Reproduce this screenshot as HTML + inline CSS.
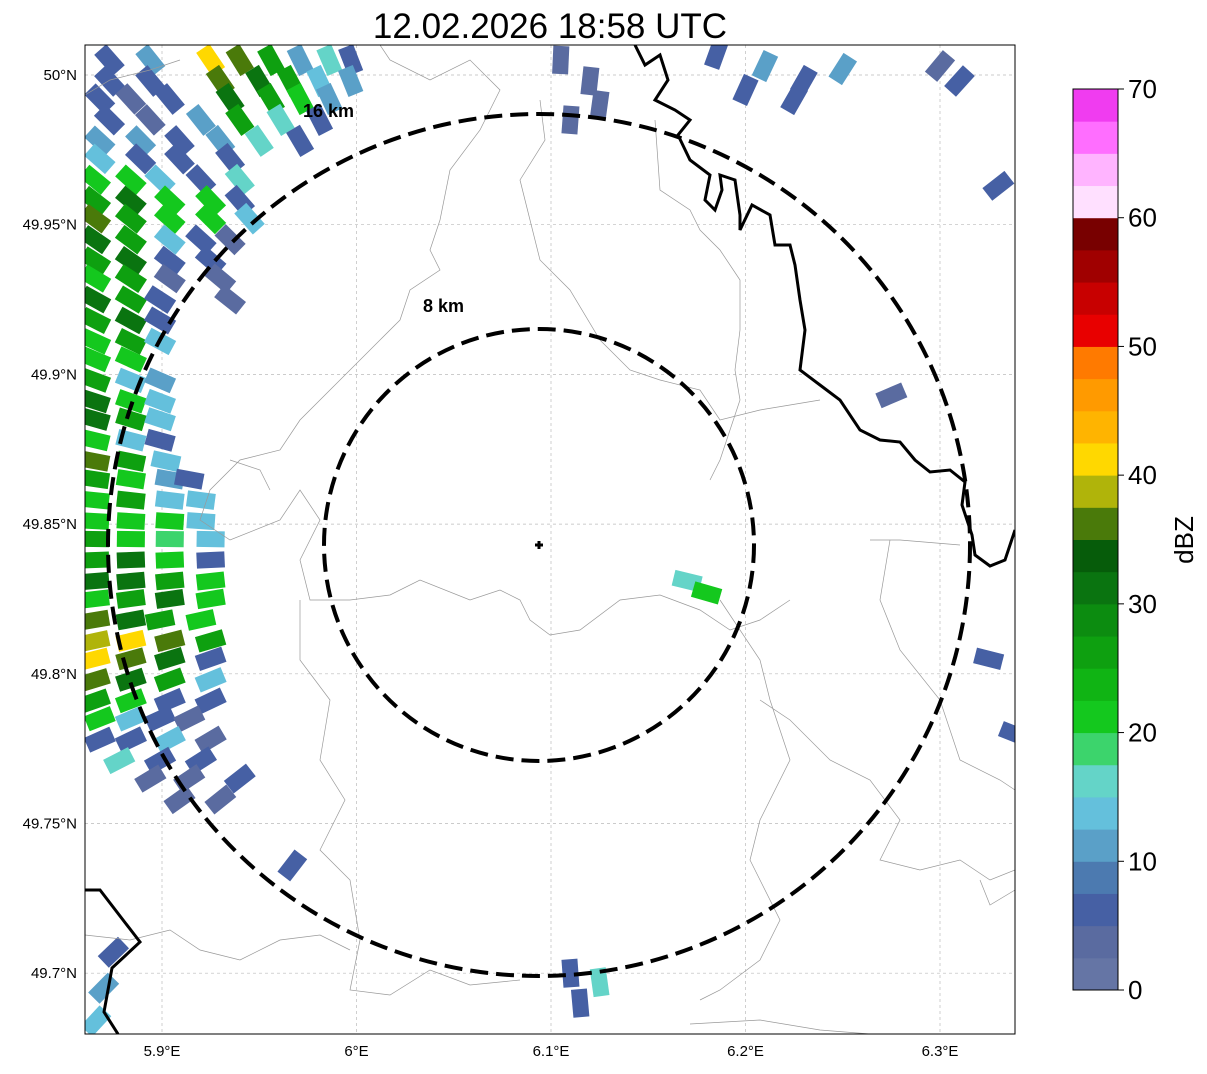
<!DOCTYPE html>
<html><head><meta charset="utf-8"><style>
body{margin:0;background:#fff;font-family:"Liberation Sans",sans-serif}
svg text{font-family:"Liberation Sans",sans-serif}
</style></head><body>
<svg id="chart" width="1207" height="1069" viewBox="0 0 1207 1069" xmlns="http://www.w3.org/2000/svg">
<text x="550" y="38" font-size="35" text-anchor="middle">12.02.2026 18:58 UTC</text>
<defs><clipPath id="mapclip"><rect x="85" y="45" width="930" height="989"/></clipPath></defs>
<g id="map" clip-path="url(#mapclip)">
<g id="grid"></g>
<g id="echoes"></g>
<g fill="none" stroke="#999" stroke-width="0.7">
<path d="M85,95 L110,80 L150,70 L180,60 M380,45 L390,60 L430,80 L470,60 L500,90 L480,130 L450,170 L440,220 L430,250 L440,270 L410,290 L400,320 L370,350 L340,380 L300,420 L280,450 L240,460 L210,490 L200,520 L230,540 L280,520 L300,490 L320,520 L300,560 L310,600 L350,600 L390,595 L420,580 L470,600 L500,590 L520,600 L530,620 L550,635 L580,630 L620,600 L660,595 L700,610 L730,630 L760,620 L790,600"/>
<path d="M540,100 L545,140 L520,180 L530,220 L540,260 L570,290 L600,340 L630,370 L660,380 L700,390 L720,420 L760,410 L790,405 L820,400"/>
<path d="M655,120 L660,190 L690,210 L700,230 L720,250 L740,280 L740,330 L735,370 L740,400 L720,460 L710,480"/>
<path d="M300,600 L300,660 L330,700 L320,760 L345,800 L320,850 L350,880 L360,940 L350,990 L390,995 L430,970 L470,985 L520,980"/>
<path d="M230,460 L260,470 L270,490 M85,935 L130,940 L170,930 L200,950 L240,960 L280,940 L320,935 L350,950"/>
<path d="M760,700 L790,720 L830,760 L870,780 L900,820 L880,860 L920,870 L960,860 L990,880 L1015,870 M720,600 L760,660 L770,700 L790,760 L760,820 L750,860 L780,920 L760,960 L720,990 L700,1000 M870,540 L900,540 L960,545 M890,540 L880,600 L900,650 L940,700 L960,760 L1000,780 L1015,790 M980,880 L990,905 L1015,890 M690,1024 L760,1020 L820,1030 L870,1034"/>
</g>
<g fill="none" stroke="#000" stroke-width="3">
<path d="M635,45 L645,65 L660,55 L668,80 L655,100 L675,110 L690,120 L678,135 L690,160 L710,175 L705,200 L715,210 L722,190 L720,175 L735,180 L740,215 L740,230 L752,205 L770,215 L775,245 L790,245 L795,265 L800,300 L805,330 L800,370 L820,385 L840,400 L860,430 L880,440 L900,442 L915,460 L930,472 L950,470 L965,482 L962,505 L972,535 L975,555 L990,566 L1005,560 L1015,530"/>
<path d="M85,890 L100,890 L140,942 L112,968 L104,1012 L118,1034"/>
</g>
<g fill="none" stroke="#000" stroke-width="4" stroke-dasharray="18,8">
<ellipse cx="539" cy="545" rx="215" ry="216"/>
<ellipse cx="539" cy="545" rx="431" ry="431"/>
</g>
<text x="303" y="117" font-size="18" font-weight="bold">16 km</text>
<text x="423" y="312" font-size="18" font-weight="bold">8 km</text>
<path d="M535,545 H543 M539,541 V549" stroke="#000" stroke-width="3"/>
</g>
<rect x="85" y="45" width="930" height="989" fill="none" stroke="#000" stroke-width="1"/>
<g id="axes"></g>
<g id="colorbar"></g>
<text transform="translate(1193,540) rotate(-90)" font-size="26" text-anchor="middle">dBZ</text>
</svg>
<script>
const lonTicks=[5.9,6.0,6.1,6.2,6.3];
const lonLabels=["5.9°E","6°E","6.1°E","6.2°E","6.3°E"];
const latTicks=[50,49.95,49.9,49.85,49.8,49.75,49.7];
const latLabels=["50°N","49.95°N","49.9°N","49.85°N","49.8°N","49.75°N","49.7°N"];
const cbColors=["#6575a5","#5a6ba0","#4660a4","#4c7ab0","#5aa0c8","#64c0dc","#64d4c8","#3cd46c","#14c81e","#10b414","#0ea010","#0c8c10","#0a7410","#065c0a","#4a7a0a","#b0b40a","#ffd800","#ffb400","#ff9a00","#ff7a00","#e80000","#c80000","#a00000","#780000","#ffe0ff","#ffb4ff","#ff6eff","#f03cf0"];
const cbTicks=[0,10,20,30,40,50,60,70];
const echoLon=[5.873,5.894,5.925,5.940,5.956,5.971,5.986,5.997, 5.873,5.894,5.930,5.950,5.966,5.981,5.997, 5.868,5.884,5.904,5.935,5.956,5.971,5.986, 5.873,5.894,5.920,5.940,5.961,5.981, 5.868,5.889,5.909,5.930,5.950,5.971, 5.868,5.889,5.909,5.935, 5.8656,5.884,5.899,5.920,5.940, 5.8656,5.884,5.904,5.925,5.940, 5.8656,5.884,5.904,5.925,5.945, 5.8656,5.884,5.904,5.920,5.935, 5.8656,5.884,5.904,5.925, 5.8656,5.884,5.904,5.930, 5.8656,5.884,5.899,5.935, 5.8656,5.884,5.899, 5.8656,5.884,5.899, 5.8656,5.884, 5.8656,5.884,5.899, 5.8656,5.884,5.899, 5.8656,5.884,5.899, 5.8656,5.884,5.899, 5.8656,5.884,5.902, 5.8656,5.884,5.904,5.914, 5.8656,5.884,5.904,5.920, 5.8656,5.884,5.904,5.920, 5.8656,5.884,5.904,5.925, 5.8656,5.884,5.904,5.925, 5.8656,5.884,5.904,5.925, 5.8656,5.884,5.904,5.925, 5.8656,5.884,5.899,5.920, 5.8656,5.884,5.904,5.925, 5.8656,5.884,5.904,5.925, 5.8656,5.884,5.904,5.925, 5.8656,5.884,5.904,5.925, 5.868,5.884,5.899,5.914, 5.868,5.884,5.904,5.925, 5.878,5.899,5.920, 5.894,5.914,5.940, 5.909,5.930, 6.105,6.120,6.125,6.110, 6.185,6.210,6.230,6.250,6.200,6.225, 6.300,6.310, 6.330, 6.275, 6.170,6.180, 6.325, 6.338, 6.110,6.125,6.115, 5.967,5.875,5.870,5.866];
const echoLat=[50.005,50.005,50.005,50.005,50.005,50.005,50.005,50.005, 49.998,49.998,49.998,49.998,49.998,49.998,49.998, 49.992,49.992,49.992,49.992,49.992,49.992,49.992, 49.985,49.985,49.985,49.985,49.985,49.985, 49.978,49.978,49.978,49.978,49.978,49.978, 49.972,49.972,49.972,49.972, 49.965,49.965,49.965,49.965,49.965, 49.958,49.958,49.958,49.958,49.958, 49.952,49.952,49.952,49.952,49.952, 49.945,49.945,49.945,49.945,49.945, 49.938,49.938,49.938,49.938, 49.932,49.932,49.932,49.932, 49.925,49.925,49.925,49.925, 49.918,49.918,49.918, 49.911,49.911,49.911, 49.905,49.905, 49.898,49.898,49.898, 49.891,49.891,49.891, 49.885,49.885,49.885, 49.878,49.878,49.878, 49.871,49.871,49.871, 49.865,49.865,49.865,49.865, 49.858,49.858,49.858,49.858, 49.851,49.851,49.851,49.851, 49.845,49.845,49.845,49.845, 49.838,49.838,49.838,49.838, 49.831,49.831,49.831,49.831, 49.825,49.825,49.825,49.825, 49.818,49.818,49.818,49.818, 49.811,49.811,49.811,49.811, 49.805,49.805,49.805,49.805, 49.798,49.798,49.798,49.798, 49.791,49.791,49.791,49.791, 49.785,49.785,49.785,49.785, 49.778,49.778,49.778,49.778, 49.771,49.771,49.771, 49.765,49.765,49.765, 49.758,49.758, 50.005,49.998,49.990,49.985, 50.007,50.003,49.998,50.002,49.995,49.992, 50.003,49.998, 49.963, 49.893, 49.831,49.827, 49.805, 49.780, 49.700,49.697,49.690, 49.736,49.707,49.695,49.684];
const echoDbz=[5,10,40,37,25,12,15,7, 5,5,35,30,27,14,10, 5,3,7,30,25,22,10, 5,3,10,27,15,5, 12,12,5,10,15,5, 13,7,5,5, 22,20,13,5,15, 27,30,22,22,7, 36,25,20,20,13, 30,27,14,5,3, 25,30,5,5, 22,27,3,3, 30,25,7,3, 27,30,5, 22,25,14, 20,22, 27,14,10, 32,22,13, 30,27,14, 22,13,7, 36,25,13, 25,20,10,5, 22,27,14,13, 20,22,20,14, 25,20,18,13, 27,30,22,7, 30,32,25,20, 22,27,30,22, 37,30,25,20, 38,40,37,27, 40,36,30,5, 35,30,27,14, 25,22,5,7, 20,14,5,3, 7,5,13,3, 15,5,5,3, 3,5,3, 3,3,3, 3,3, 5,10,5,12, 5,7,3,5,5,3, 17,20, 5, 5, 5,15, 5, 5, 5,12,13, 5,5,5,22];
const X=lon=>162+(lon-5.9)*1945;
const Y=lat=>75+(50-lat)*2994;
const NS="http://www.w3.org/2000/svg";
function mk(tag,attrs,parent){const e=document.createElementNS(NS,tag);for(const k in attrs)e.setAttribute(k,attrs[k]);parent.appendChild(e);return e;}
const grid=document.getElementById('grid'),axes=document.getElementById('axes');
lonTicks.forEach((v,i)=>{
 const gl=mk('line',{x1:X(v),x2:X(v),y1:45,y2:1034,stroke:'#bbb','stroke-width':0.7,'stroke-dasharray':'3,3'},grid);
 
 
 const t=mk('text',{x:X(v),y:1056,'font-size':15,'text-anchor':'middle'},axes);t.textContent=lonLabels[i];
 
 
});
latTicks.forEach((v,i)=>{
 const gl=mk('line',{x1:85,x2:1015,y1:Y(v),y2:Y(v),stroke:'#bbb','stroke-width':0.7,'stroke-dasharray':'3,3'},grid);
 
 
 const t=mk('text',{x:77,y:Y(v)+5,'font-size':15,'text-anchor':'end'},axes);t.textContent=latLabels[i];
 
 
});
const eg=document.getElementById('echoes');
const cbin=v=>cbColors[Math.max(0,Math.min(cbColors.length-1,Math.floor(v/2.5)))];
echoDbz.forEach((d,i)=>{
 const x=X(echoLon[i]),y=Y(echoLat[i]);
 const ang=Math.atan2(y-545,x-539)*180/Math.PI;
 const r=mk('rect',{x:x-14,y:y-8,width:28,height:16,fill:cbin(d),transform:`rotate(${ang} ${x} ${y})`},eg);
 
 
});
const cb=document.getElementById('colorbar');
const CB=v=>990-v*(901/70);
cbColors.forEach((c,i)=>{
 const r=mk('rect',{x:1073,y:CB((i+1)*2.5),width:45,height:901/28+0.5,fill:c},cb);
 
 
});
mk('rect',{x:1073,y:89,width:45,height:901,fill:'none',stroke:'#000','stroke-width':1},cb);
cbTicks.forEach(v=>{
 mk('line',{x1:1118,x2:1124,y1:CB(v),y2:CB(v),stroke:'#000'},cb);
 const t=mk('text',{x:1128,y:CB(v)+9,'font-size':26},cb);t.textContent=v;
 
 
});
</script>
</body></html>
